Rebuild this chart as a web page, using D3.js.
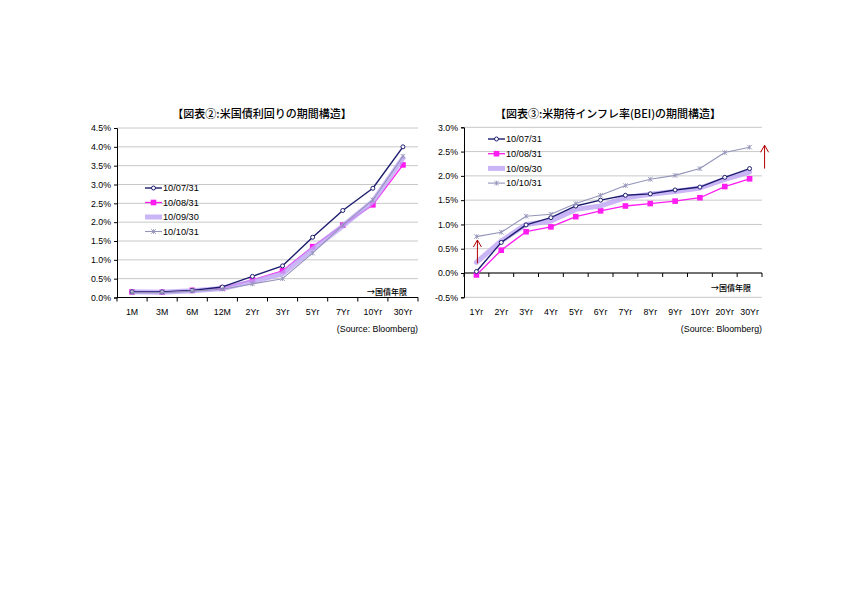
<!DOCTYPE html>
<html>
<head>
<meta charset="utf-8">
<script src="https://cdn.jsdelivr.net/npm/d3@7"></script>
<style>
  body { margin: 0; background: #fff; }
  svg { display: block; }
  .tick text { font-family: "Liberation Sans", Arial, sans-serif; font-size: 8.8px; fill: #000; }
</style>
</head>
<body>
<div id="chart"></div>
<script>
// series labels shared by both charts
var seriesNames = ["10/07/31", "10/08/31", "10/09/30", "10/10/31"];

// chart 2 : treasury yields (%)
var yieldCats = ["1M", "3M", "6M", "12M", "2Yr", "3Yr", "5Yr", "7Yr", "10Yr", "30Yr"];
var yieldJul = [0.15, 0.15, 0.19, 0.28, 0.56, 0.84, 1.60, 2.31, 2.90, 4.00];
var yieldAug = [0.15, 0.14, 0.19, 0.25, 0.47, 0.71, 1.35, 1.92, 2.46, 3.52];
var yieldSep = [0.15, 0.14, 0.18, 0.24, 0.42, 0.63, 1.28, 1.90, 2.55, 3.70];
var yieldOct = [0.13, 0.13, 0.17, 0.22, 0.36, 0.50, 1.18, 1.92, 2.59, 3.75];
var yieldTicks = [0, 0.5, 1, 1.5, 2, 2.5, 3, 3.5, 4, 4.5];

// chart 3 : break-even inflation (%)
var beiCats = ["1Yr", "2Yr", "3Yr", "4Yr", "5Yr", "6Yr", "7Yr", "8Yr", "9Yr", "10Yr", "20Yr", "30Yr"];
var beiJul = [0.03, 0.63, 0.99, 1.14, 1.38, 1.50, 1.60, 1.63, 1.71, 1.77, 1.97, 2.15];
var beiAug = [-0.04, 0.47, 0.85, 0.95, 1.16, 1.28, 1.38, 1.43, 1.48, 1.55, 1.78, 1.94];
var beiSep = [0.22, 0.66, 1.00, 1.07, 1.31, 1.38, 1.55, 1.62, 1.68, 1.75, 1.93, 2.08];
var beiOct = [0.75, 0.84, 1.17, 1.21, 1.43, 1.60, 1.80, 1.93, 2.01, 2.15, 2.48, 2.59];
var beiTicks = [-0.5, 0, 0.5, 1, 1.5, 2, 2.5, 3];

// arrows on chart 3 (category, from, to)
var beiArrows = [["1Yr", 0.2, 0.68], ["30Yr", 2.15, 2.63]];

var styles = [
  {color: "#1c1c6e", w: 1.4, marker: "circle"},
  {color: "#ff1cf0", w: 1.3, marker: "square"},
  {color: "#bda4f4", w: 5, marker: null, opacity: 0.8},
  {color: "#9494ba", w: 1.1, marker: "star"}
];
var drawOrder = [1, 2, 0, 3];

var svg = d3.select("#chart").append("svg").attr("width", 842).attr("height", 596);

function drawChart(o){
  var x = d3.scaleBand().domain(o.cats).range([o.left, o.right]);
  var y = d3.scaleLinear().domain([o.ticks[0], o.ticks[o.ticks.length-1]]).range([o.bottom, o.top]);
  var g = svg.append("g");

  // grid
  g.selectAll(".grid").data(o.ticks).enter().append("line")
    .attr("x1", o.left).attr("x2", o.right)
    .attr("y1", function(d){ return y(d); }).attr("y2", function(d){ return y(d); })
    .attr("stroke", "#c8c8c8").attr("stroke-width", 1);

  var yAxis = g.append("g").attr("transform", "translate(" + o.left + ",0)")
    .call(d3.axisLeft(y).tickValues(o.ticks).tickSize(3).tickPadding(3)
      .tickFormat(function(d){ return d.toFixed(1) + "%"; }));
  yAxis.select(".domain").attr("stroke", "#000");

  // category axis at zero
  var xg = g.append("g").attr("transform", "translate(0," + y(0) + ")");
  xg.append("line").attr("x1", o.left).attr("x2", o.right).attr("stroke", "#000");
  var bounds = o.cats.map(function(c){ return x(c); }).concat([o.right]);
  xg.selectAll(".xt").data(bounds).enter().append("line")
    .attr("x1", function(d){ return d; }).attr("x2", function(d){ return d; })
    .attr("y1", 0).attr("y2", 4).attr("stroke", "#000");
  g.selectAll(".xl").data(o.cats).enter().append("text")
    .attr("x", function(d){ return x(d) + x.bandwidth()/2; })
    .attr("y", o.labelY)
    .attr("text-anchor", "middle")
    .style("font-family", "Liberation Sans, Arial, sans-serif").style("font-size", "8.8px")
    .text(function(d){ return d; });

  var line = d3.line()
    .x(function(d, i){ return x(o.cats[i]) + x.bandwidth()/2; })
    .y(function(d){ return y(d); });

  drawOrder.forEach(function(si){
    var s = styles[si], vals = o.series[si];
    g.append("path").attr("d", line(vals)).attr("fill", "none")
      .attr("stroke", s.color).attr("stroke-width", s.w)
      .attr("stroke-linejoin", "round").attr("stroke-linecap", "round")
      .attr("opacity", s.opacity || 1);
    drawMarkers(g, vals.map(function(v, i){ return [x(o.cats[i]) + x.bandwidth()/2, y(v)]; }), s);
  });

  // legend
  seriesNames.forEach(function(name, i){
    var s = styles[i], ly = o.legY + i * o.legGap;
    g.append("line").attr("x1", o.legX).attr("x2", o.legX + 17).attr("y1", ly).attr("y2", ly)
      .attr("stroke", s.color).attr("stroke-width", s.w).attr("opacity", s.opacity || 1);
    drawMarkers(g, [[o.legX + 8.5, ly]], s);
    g.append("text").attr("x", o.legX + 18).attr("y", ly + 3.2)
      .style("font-family", "Liberation Sans, Arial, sans-serif").style("font-size", "9.2px")
      .text(name);
  });

  g.append("text").attr("x", o.titleX).attr("y", o.titleY).attr("text-anchor", "middle")
    .style("font-family", "Noto Sans CJK JP, sans-serif").style("font-size", o.titleSize).style("font-weight", "500")
    .text(o.title);
  g.append("text").attr("x", o.right - 11).attr("y", o.noteY).attr("text-anchor", "end")
    .style("font-family", "Noto Sans CJK JP, sans-serif").style("font-size", "8px").style("font-weight", "500")
    .text("→国債年限");
  g.append("text").attr("x", o.right).attr("y", o.srcY).attr("text-anchor", "end")
    .style("font-family", "Liberation Sans, Arial, sans-serif").style("font-size", "8.8px")
    .text("(Source: Bloomberg)");

  return {x: x, y: y, g: g};
}

function drawMarkers(g, pts, s){
  if (s.marker === "circle") {
    g.selectAll(null).data(pts).enter().append("circle")
      .attr("cx", function(d){ return d[0]; }).attr("cy", function(d){ return d[1]; })
      .attr("r", 2).attr("fill", "#fff").attr("stroke", s.color).attr("stroke-width", 1);
  } else if (s.marker === "square") {
    g.selectAll(null).data(pts).enter().append("rect")
      .attr("x", function(d){ return d[0] - 2.8; }).attr("y", function(d){ return d[1] - 2.8; })
      .attr("width", 5.6).attr("height", 5.6).attr("fill", s.color);
  } else if (s.marker === "star") {
    g.selectAll(null).data(pts).enter().append("path")
      .attr("d", function(d){
        var a = d[0], b = d[1], r = 2.3;
        return "M" + (a-r) + "," + (b-r) + "L" + (a+r) + "," + (b+r) +
               "M" + (a-r) + "," + (b+r) + "L" + (a+r) + "," + (b-r) +
               "M" + a + "," + (b-r) + "L" + a + "," + (b+r);
      })
      .attr("stroke", s.color).attr("stroke-width", 0.9).attr("fill", "none");
  }
}

drawChart({
  cats: yieldCats, ticks: yieldTicks,
  series: [yieldJul, yieldAug, yieldSep, yieldOct],
  left: 117, right: 418, top: 128, bottom: 297.5,
  labelY: 315, legX: 145, legY: 188, legGap: 14.5,
  title: "【図表②:米国債利回りの期間構造】", titleX: 262, titleY: 118, titleSize: "11px",
  noteY: 295, srcY: 332
});

var c3 = drawChart({
  cats: beiCats, ticks: beiTicks,
  series: [beiJul, beiAug, beiSep, beiOct],
  left: 464, right: 762, top: 127.3, bottom: 297.3,
  labelY: 315, legX: 488, legY: 139, legGap: 14.7,
  title: "【図表③:米期待インフレ率(BEI)の期間構造】", titleX: 608, titleY: 118, titleSize: "11px",
  noteY: 291, srcY: 332
});

// red arrows
beiArrows.forEach(function(a, i){
  var ax = c3.x(a[0]) + c3.x.bandwidth()/2 + (i === 0 ? 1 : 15);
  var y0 = c3.y(a[1]), y1 = c3.y(a[2]);
  c3.g.append("path")
    .attr("d", "M" + ax + "," + y0 + "L" + ax + "," + y1 + "M" + (ax-4) + "," + (y1+7) + "L" + ax + "," + y1 + "L" + (ax+4) + "," + (y1+7))
    .attr("stroke", "#b00000").attr("stroke-width", 1).attr("fill", "none");
});
</script>
</body>
</html>
